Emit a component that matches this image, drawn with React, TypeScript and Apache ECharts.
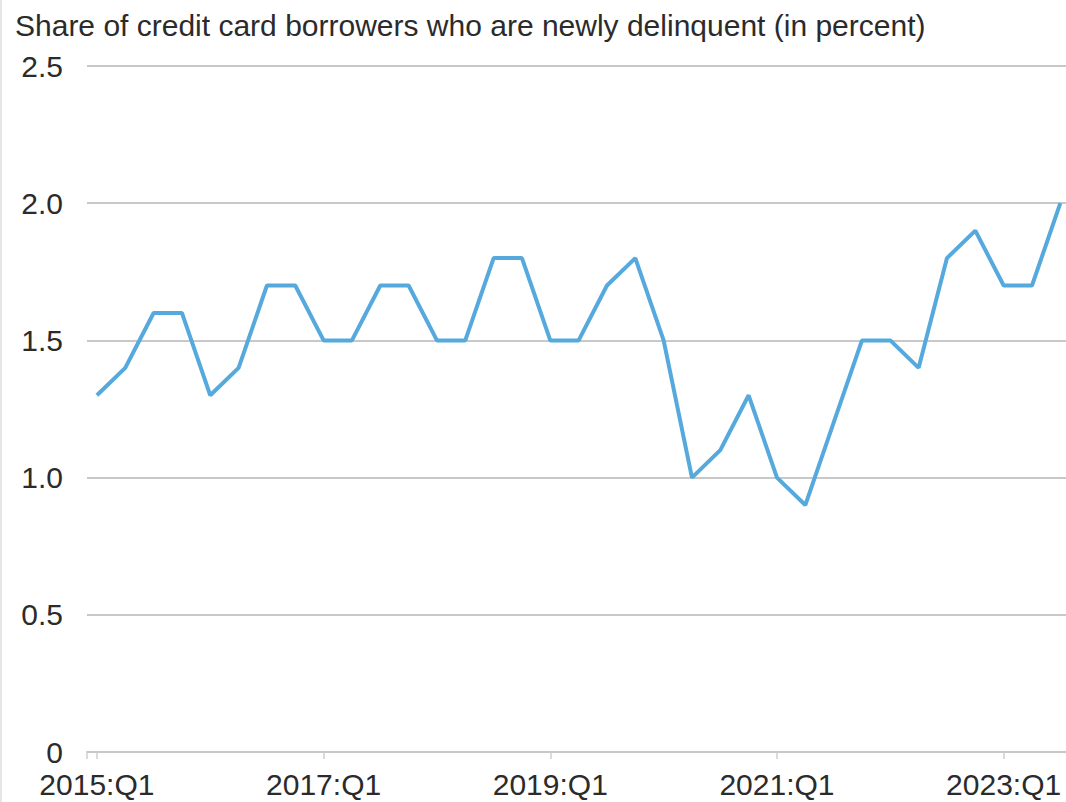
import React, { useEffect, useRef } from "react";
import * as echarts from "echarts";

const quarters: string[] = [
  "2015:Q1", "2015:Q2", "2015:Q3", "2015:Q4",
  "2016:Q1", "2016:Q2", "2016:Q3", "2016:Q4",
  "2017:Q1", "2017:Q2", "2017:Q3", "2017:Q4",
  "2018:Q1", "2018:Q2", "2018:Q3", "2018:Q4",
  "2019:Q1", "2019:Q2", "2019:Q3", "2019:Q4",
  "2020:Q1", "2020:Q2", "2020:Q3", "2020:Q4",
  "2021:Q1", "2021:Q2", "2021:Q3", "2021:Q4",
  "2022:Q1", "2022:Q2", "2022:Q3", "2022:Q4",
  "2023:Q1", "2023:Q2", "2023:Q3",
];

const delinquentShare: number[] = [
  1.3, 1.4, 1.6, 1.6,
  1.3, 1.4, 1.7, 1.7,
  1.5, 1.5, 1.7, 1.7,
  1.5, 1.5, 1.8, 1.8,
  1.5, 1.5, 1.7, 1.8,
  1.5, 1.0, 1.1, 1.3,
  1.0, 0.9, 1.2, 1.5,
  1.5, 1.4, 1.8, 1.9,
  1.7, 1.7, 2.0,
];

const labelIndices: number[] = [0, 8, 16, 24, 32];
const yTicks: number[] = [0, 0.5, 1.0, 1.5, 2.0, 2.5];

const titleText = "Share of credit card borrowers who are newly delinquent (in percent)";
const FONT = "'Liberation Sans', Arial, sans-serif";

export default function App() {
  const ref = useRef<HTMLDivElement>(null);
  useEffect(() => {
    if (!ref.current) return;
    const chart = echarts.init(ref.current, undefined, { renderer: "svg" });
    chart.setOption({
      animation: false,
      backgroundColor: "#ffffff",
      title: {
        text: titleText,
        left: 10,
        top: 5,
        textStyle: { fontFamily: FONT, fontSize: 30, fontWeight: "normal", color: "#2b2b2b" },
      },
      grid: { left: 87, right: 0, top: 66, bottom: 50, containLabel: false },
      xAxis: {
        type: "value",
        min: -0.35,
        max: 34.2,
        splitLine: { show: false },
        axisLine: { show: true, lineStyle: { color: "#c8c8c8", width: 2 } },
        axisTick: {
          show: true,
          length: 7,
          lineStyle: { color: "#cfcfcf", width: 1.5 },
          customValues: [-0.35, ...labelIndices],
        },
        axisLabel: {
          customValues: labelIndices,
          formatter: (v: number) => quarters[Math.round(v)] ?? "",
          fontFamily: FONT,
          fontSize: 30,
          lineHeight: 30,
          color: "#2b2b2b",
          margin: 17,
        },
      },
      yAxis: {
        type: "value",
        min: 0,
        max: 2.5,
        interval: 0.5,
        axisLine: { show: false },
        axisTick: { show: false },
        splitLine: { show: true, lineStyle: { color: "#c8c8c8", width: 2 } },
        axisLabel: {
          fontFamily: FONT,
          fontSize: 30,
          lineHeight: 28,
          color: "#2b2b2b",
          margin: 24,
          formatter: (v: number) => (v === 0 ? "0" : yTicks.includes(v) ? v.toFixed(1) : ""),
        },
      },
      series: [
        {
          type: "line",
          data: delinquentShare.map((v, i) => [i, v]),
          showSymbol: false,
          symbol: "none",
          lineStyle: { color: "#55a9dd", width: 4 },
          clip: false,
        },
      ],
      graphic: [
        {
          type: "line",
          shape: { x1: 1, y1: 0, x2: 1, y2: 802 },
          style: { stroke: "#e6e6e6", lineWidth: 2 },
        },
      ],
    });
    return () => chart.dispose();
  }, []);
  return (
    <div
      ref={ref}
      style={{ position: "fixed", left: 0, top: 0, width: 1066, height: 802 }}
    />
  );
}
